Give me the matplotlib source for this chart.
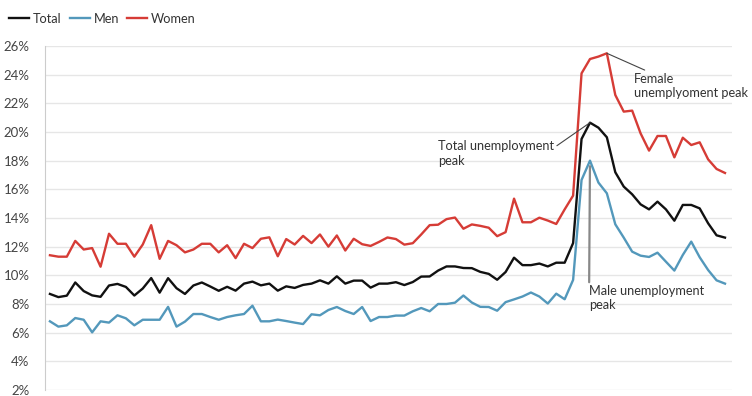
import matplotlib
matplotlib.use("Agg")
import matplotlib.pyplot as plt
import numpy as np

plt.rcParams['font.family'] = ['Lato', 'DejaVu Sans']

# unemployment rate (%) per period
total = [8.7, 8.48, 8.58, 9.5, 8.9, 8.6, 8.5, 9.29, 9.4, 9.19,
         8.59, 9.08, 9.81, 8.79, 9.8, 9.1, 8.7, 9.29, 9.5, 9.22,
         8.92, 9.2, 8.93, 9.42, 9.56, 9.3, 9.42, 8.93, 9.23, 9.12,
         9.33, 9.42, 9.65, 9.42, 9.93, 9.42, 9.63, 9.63, 9.14, 9.42,
         9.42, 9.52, 9.32, 9.53, 9.91, 9.92, 10.33, 10.62, 10.62, 10.51,
         10.5, 10.24, 10.1, 9.69, 10.23, 11.23, 10.71, 10.71, 10.82, 10.62,
         10.88, 10.88, 12.25, 19.51, 20.65, 20.3, 19.63, 17.19, 16.19, 15.65,
         14.95, 14.6, 15.14, 14.6, 13.81, 14.91, 14.91, 14.67, 13.63, 12.79,
         12.63]
men = [6.79, 6.42, 6.51, 7.02, 6.9, 6.02, 6.79, 6.7, 7.21, 7.0,
       6.51, 6.9, 6.9, 6.9, 7.8, 6.42, 6.77, 7.3, 7.3, 7.09,
       6.9, 7.09, 7.21, 7.3, 7.88, 6.79, 6.79, 6.91, 6.81, 6.7,
       6.6, 7.28, 7.21, 7.58, 7.79, 7.51, 7.3, 7.79, 6.81, 7.09,
       7.09, 7.19, 7.19, 7.49, 7.72, 7.49, 8.0, 8.0, 8.09, 8.59,
       8.1, 7.8, 7.79, 7.53, 8.13, 8.32, 8.52, 8.8, 8.52, 8.03,
       8.72, 8.33, 9.68, 16.65, 18.0, 16.47, 15.72, 13.56, 12.63, 11.65,
       11.37, 11.28, 11.58, 10.95, 10.33, 11.42, 12.35, 11.26, 10.37, 9.65,
       9.42]
women = [11.4, 11.3, 11.3, 12.4, 11.8, 11.9, 10.6, 12.9, 12.2, 12.2,
         11.3, 12.15, 13.5, 11.15, 12.4, 12.1, 11.6, 11.8, 12.2, 12.2,
         11.6, 12.1, 11.2, 12.2, 11.9, 12.55, 12.65, 11.33, 12.53, 12.15,
         12.75, 12.25, 12.85, 12.0, 12.78, 11.73, 12.55, 12.17, 12.05, 12.33,
         12.64, 12.53, 12.14, 12.24, 12.85, 13.5, 13.53, 13.92, 14.03, 13.25,
         13.55, 13.45, 13.32, 12.73, 13.01, 15.35, 13.7, 13.7, 14.02, 13.82,
         13.58, 14.6, 15.56, 24.09, 25.09, 25.26, 25.49, 22.58, 21.42, 21.49,
         19.9, 18.7, 19.72, 19.72, 18.23, 19.6, 19.09, 19.28, 18.09, 17.42,
         17.14]
yticks = [2, 4, 6, 8, 10, 12, 14, 16, 18, 20, 22, 24, 26]

x = np.arange(len(total))
c_total, c_men, c_women = '#111111', '#5398bb', '#d63c36'
txt = '#333333'

fig = plt.figure(figsize=(7.52, 3.96), dpi=100)
ax = fig.add_axes([0.0598, 0.0152, 0.9136, 0.8687])

ax.plot(x, total, color=c_total, lw=1.7, label='Total', zorder=3)
ax.plot(x, men, color=c_men, lw=1.7, label='Men', zorder=3)
ax.plot(x, women, color=c_women, lw=1.7, label='Women', zorder=3)

ax.set_xlim(-0.59, 80.83)
ax.set_ylim(2, 26)
ax.set_yticks(yticks)
ax.set_yticklabels([f'{t}%' for t in yticks])
ax.set_xticks([])
ax.tick_params(axis='y', length=0, pad=11, labelsize=9.5, labelcolor='#444444')
ax.grid(axis='y', color='#e6e6e6', lw=1, zorder=0)
for s in ['top', 'right', 'bottom']:
    ax.spines[s].set_visible(False)
ax.spines['left'].set_color('#cccccc')

# annotations
i_tot = int(np.argmax(total))
i_wom = int(np.argmax(women))
i_men = int(np.argmax(men))
ax.annotate('Total unemployment\npeak', xy=(i_tot, total[i_tot]), xytext=(46.0, 18.5),
            fontsize=9.2, color=txt, ha='left', va='center', linespacing=1.25,
            arrowprops=dict(arrowstyle='-', color='#444444', lw=0.8,
                            shrinkA=0, shrinkB=0, relpos=(1.0, 0.72)))
ax.annotate('Female\nunemplyoment peak', xy=(i_wom, women[i_wom]), xytext=(69.2, 23.2),
            fontsize=9.2, color=txt, ha='left', va='center', linespacing=1.25,
            arrowprops=dict(arrowstyle='-', color='#444444', lw=0.8,
                            shrinkA=0, shrinkB=0, relpos=(0.15, 1.0)))
ax.annotate('Male unemployment\npeak', xy=(i_men, men[i_men]), xytext=(63.9, 8.4),
            fontsize=9.2, color=txt, ha='left', va='center', linespacing=1.25,
            arrowprops=dict(arrowstyle='-', color='#888888', lw=1.6,
                            shrinkA=0, shrinkB=4, relpos=(0.0, 1.0)))

fig.legend(loc='upper left', bbox_to_anchor=(0.0, 0.99), ncol=3, frameon=False,
           fontsize=9.2, handlelength=1.6, handletextpad=0.3, columnspacing=0.6,
           labelcolor=txt, borderaxespad=0.3)

plt.savefig('out.png', dpi=100)
